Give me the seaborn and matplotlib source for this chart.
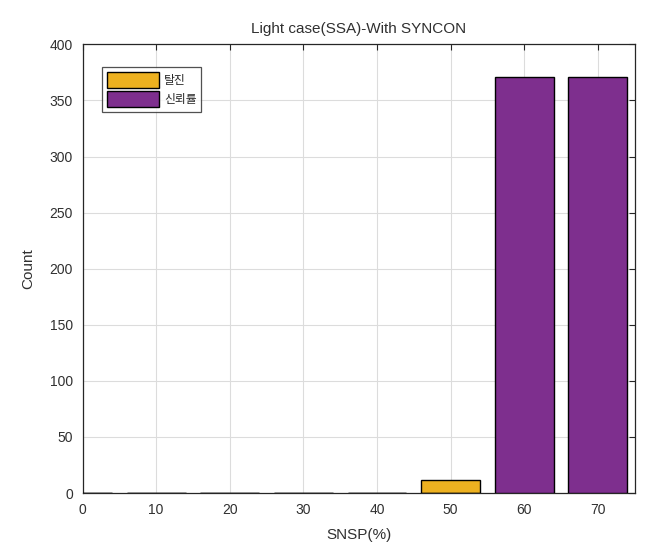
import matplotlib
matplotlib.use("Agg")
import matplotlib.pyplot as plt
import seaborn as sns
import numpy as np
from matplotlib.patches import Patch

snsp = [0, 10, 20, 30, 40, 50, 60, 70]
series1 = [0, 0, 0, 0, 0, 12, 0, 0]
series2 = [0, 0, 0, 0, 0, 0, 371, 371]
labels = ["탈진", "신뢰률"]
title = "Light case(SSA)-With SYNCON"
xticks = [0, 10, 20, 30, 40, 50, 60, 70]
yticks = [0, 50, 100, 150, 200, 250, 300, 350, 400]

c1 = "#EDB120"
c2 = "#7E2F8E"

sns.set_theme(style="white")
plt.rcParams['font.family'] = ['Liberation Sans', 'Noto Sans CJK KR', 'DejaVu Sans']

fig = plt.figure(figsize=(6.55, 5.54), dpi=100)
ax = fig.add_axes([0.126, 0.110, 0.843, 0.810])

sns.barplot(x=snsp, y=series1, native_scale=True, width=0.8, color=c1,
            edgecolor="black", linewidth=1.0, saturation=1, ax=ax, zorder=3)
sns.barplot(x=snsp, y=series2, native_scale=True, width=0.8, color=c2,
            edgecolor="black", linewidth=1.0, saturation=1, ax=ax, zorder=3)

ax.set_xlim(0, 75)
ax.set_ylim(0, 400)
ax.set_xticks(xticks)
ax.set_yticks(yticks)
ax.grid(True, color="#dcdcdc", linewidth=0.8, zorder=0)
ax.set_axisbelow(True)
ax.tick_params(direction="in", length=4, width=0.8, colors="#262626",
               labelsize=10, top=True, right=True, labelcolor="#303030", pad=7)
for s in ax.spines.values():
    s.set_color("#262626")
    s.set_linewidth(0.9)
    s.set_visible(True)

ax.set_xlabel("SNSP(%)", fontsize=11, color="#303030", labelpad=8)
ax.set_ylabel("Count", fontsize=11, color="#303030", labelpad=10)
ax.set_title(title, fontsize=11, color="#303030", pad=8)

handles = [Patch(facecolor=c1, edgecolor="black"), Patch(facecolor=c2, edgecolor="black")]
leg = ax.legend(handles, labels, loc="upper left", bbox_to_anchor=(0.036, 0.949),
                borderaxespad=0, frameon=True, fancybox=False, edgecolor="#262626",
                handlelength=4.4, handleheight=1.75, borderpad=0.4, labelspacing=0.2,
                handletextpad=0.4,
                prop={'family': ['Noto Sans CJK KR', 'DejaVu Sans'], 'size': 8.5})
leg.get_frame().set_linewidth(0.9)

fig.savefig("out.png", dpi=100)
